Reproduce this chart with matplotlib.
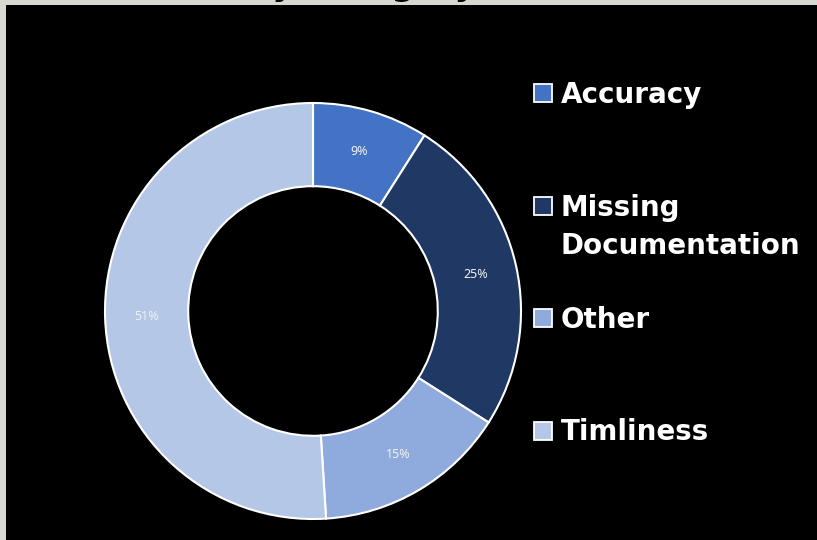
import matplotlib.pyplot as plt
from matplotlib.patches import Rectangle

categories = ['Accuracy', 'Missing Documentation', 'Other', 'Timliness']
legend_lines = [['Accuracy'], ['Missing', 'Documentation'], ['Other'], ['Timliness']]
shares = [9, 25, 15, 51]
colors = ['#4472C4', '#203864', '#8FAADC', '#B4C7E7']

W, H = 817, 540
fig = plt.figure(figsize=(W / 100, H / 100), dpi=100)
fig.patch.set_facecolor('#d8d8d3')

# black slide area
fig.add_artist(Rectangle((6 / W, 0), 1, 1 - 5 / H, transform=fig.transFigure,
                         facecolor='black', edgecolor='none', zorder=0))

# title, mostly cut off above the frame
fig.text(476 / W, 544.5 / H, 'Errors by Category', ha='right', va='baseline',
         fontsize=24, fontweight='bold', color='black', family='DejaVu Sans')

# donut
cx, cy, r = 313, 540 - 311, 208
ax = fig.add_axes([(cx - r) / W, (cy - r) / H, 2 * r / W, 2 * r / H])
wedges, texts, autotexts = ax.pie(
    shares, colors=colors, startangle=90, counterclock=False,
    autopct='%1.0f%%', pctdistance=0.8,
    wedgeprops=dict(width=0.4, edgecolor='white', linewidth=1.5),
    textprops=dict(color='#f2f2f2', fontsize=9, family='Noto Sans'))
for w in wedges:
    w.set_clip_on(False)
ax.set_xlim(-1, 1)
ax.set_ylim(-1, 1)
ax.axis('off')

# legend drawn in pixel space
lg = fig.add_axes([0, 0, 1, 1])
lg.set_xlim(0, W)
lg.set_ylim(H, 0)
lg.axis('off')
for i, (lines, c) in enumerate(zip(legend_lines, colors)):
    yc = 93 + 112.5 * i
    lg.add_patch(Rectangle((534, yc - 9), 18, 18, facecolor=c,
                           edgecolor='white', linewidth=1.3))
    for k, line in enumerate(lines):
        lg.text(561, yc + 10 + 38 * k, line, ha='left', va='baseline',
                fontsize=20, fontweight='bold', color='white',
                family='DejaVu Sans')

fig.savefig('out.png', dpi=100, facecolor=fig.get_facecolor())
